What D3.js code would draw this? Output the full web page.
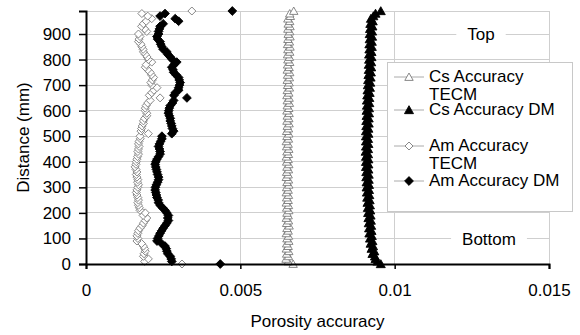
<!DOCTYPE html>
<html><head><meta charset="utf-8">
<script src="https://cdn.jsdelivr.net/npm/d3@7"></script>
<style>
html,body{margin:0;padding:0;background:#fff;}
svg text{font-family:"Liberation Sans",Arial,sans-serif;fill:#000;}
</style></head>
<body>
<svg id="chart" width="580" height="335"></svg>
<script>
// ---- data ----
const distance = [0,10,20,30,40,50,60,70,80,90,100,110,120,130,140,150,160,170,180,190,200,210,220,230,240,250,260,270,280,290,300,310,320,330,340,350,360,370,380,390,400,410,420,430,440,450,460,470,480,490,500,510,520,530,540,550,560,570,580,590,600,610,620,630,640,650,660,670,680,690,700,710,720,730,740,750,760,770,780,790,800,810,820,830,840,850,860,870,880,890,900,910,920,930,940,950,960,970,980,990];

const csTECM = [0.00671,0.00655,0.00648,0.00656,0.00650,0.00657,0.00649,0.00655,0.00650,0.00657,0.00651,0.00656,0.00649,0.00655,0.00651,0.00658,0.00650,0.00656,0.00649,0.00655,0.00651,0.00657,0.00650,0.00656,0.00649,0.00655,0.00650,0.00656,0.00649,0.00655,0.00650,0.00657,0.00651,0.00656,0.00649,0.00655,0.00650,0.00656,0.00651,0.00657,0.00650,0.00655,0.00649,0.00656,0.00651,0.00657,0.00650,0.00655,0.00649,0.00656,0.00651,0.00657,0.00650,0.00656,0.00652,0.00658,0.00651,0.00657,0.00652,0.00658,0.00651,0.00657,0.00652,0.00659,0.00652,0.00658,0.00651,0.00657,0.00652,0.00659,0.00653,0.00658,0.00652,0.00659,0.00653,0.00660,0.00652,0.00658,0.00653,0.00660,0.00654,0.00659,0.00653,0.00660,0.00654,0.00661,0.00653,0.00659,0.00654,0.00661,0.00655,0.00660,0.00654,0.00661,0.00655,0.00660,0.00654,0.00662,0.00660,0.00673];

const csDM = [0.00955,0.00944,0.00938,0.00936,0.00928,0.00934,0.00925,0.00930,0.00922,0.00928,0.00920,0.00926,0.00918,0.00925,0.00917,0.00924,0.00916,0.00923,0.00915,0.00922,0.00914,0.00921,0.00913,0.00920,0.00912,0.00919,0.00911,0.00918,0.00910,0.00917,0.00909,0.00917,0.00909,0.00916,0.00908,0.00916,0.00908,0.00915,0.00907,0.00915,0.00907,0.00915,0.00907,0.00914,0.00906,0.00914,0.00907,0.00915,0.00907,0.00914,0.00907,0.00915,0.00907,0.00915,0.00908,0.00916,0.00908,0.00916,0.00909,0.00917,0.00909,0.00917,0.00910,0.00918,0.00910,0.00918,0.00911,0.00919,0.00912,0.00920,0.00913,0.00921,0.00914,0.00922,0.00915,0.00923,0.00916,0.00924,0.00916,0.00924,0.00917,0.00925,0.00917,0.00925,0.00918,0.00926,0.00918,0.00926,0.00919,0.00927,0.00919,0.00927,0.00920,0.00928,0.00921,0.00929,0.00923,0.00931,0.00938,0.00955];

const amTECM = [0.00311,0.00190,0.00202,0.00186,0.00188,0.00192,0.00190,0.00186,0.00180,0.00165,0.00168,0.00165,0.00168,0.00170,0.00175,0.00182,0.00186,0.00192,0.00197,0.00185,0.00192,0.00175,0.00173,0.00170,0.00168,0.00170,0.00168,0.00165,0.00163,0.00165,0.00168,0.00170,0.00167,0.00168,0.00165,0.00163,0.00165,0.00162,0.00159,0.00162,0.00163,0.00165,0.00167,0.00170,0.00168,0.00170,0.00172,0.00170,0.00172,0.00176,0.00175,0.00202,0.00178,0.00180,0.00182,0.00186,0.00186,0.00190,0.00197,0.00197,0.00192,0.00192,0.00195,0.00200,0.00208,0.00240,0.00205,0.00213,0.00220,0.00230,0.00213,0.00210,0.00215,0.00219,0.00212,0.00208,0.00200,0.00192,0.00195,0.00213,0.00202,0.00198,0.00192,0.00186,0.00185,0.00181,0.00178,0.00170,0.00172,0.00175,0.00170,0.00197,0.00190,0.00180,0.00186,0.00195,0.00213,0.00200,0.00181,0.00343];

const amDM = [0.00435,0.00278,0.00276,0.00273,0.00265,0.00262,0.00260,0.00256,0.00245,0.00230,0.00232,0.00236,0.00240,0.00245,0.00250,0.00256,0.00262,0.00267,0.00265,0.00267,0.00262,0.00256,0.00248,0.00240,0.00235,0.00234,0.00230,0.00228,0.00226,0.00224,0.00225,0.00228,0.00232,0.00235,0.00235,0.00232,0.00230,0.00228,0.00226,0.00224,0.00226,0.00230,0.00235,0.00240,0.00240,0.00238,0.00235,0.00238,0.00242,0.00246,0.00246,0.00278,0.00284,0.00280,0.00278,0.00276,0.00273,0.00273,0.00270,0.00267,0.00268,0.00270,0.00273,0.00280,0.00284,0.00327,0.00285,0.00289,0.00300,0.00300,0.00303,0.00305,0.00302,0.00300,0.00292,0.00284,0.00282,0.00278,0.00285,0.00294,0.00280,0.00273,0.00265,0.00262,0.00250,0.00246,0.00242,0.00240,0.00232,0.00230,0.00235,0.00235,0.00238,0.00240,0.00250,0.00300,0.00289,0.00240,0.00256,0.00474];

const seriesNames = ["Cs Accuracy TECM","Cs Accuracy DM","Am Accuracy TECM","Am Accuracy DM"];
const xTicks = [0,0.005,0.01,0.015];
const xTickLabels = ["0","0.005","0.01","0.015"];
const yTicks = [0,100,200,300,400,500,600,700,800,900];
const yMax = 990;
const xTitle = "Porosity accuracy";
const yTitle = "Distance (mm)";
const annotations = [{text:"Top", value:900}, {text:"Bottom", value:100}];

// ---- layout ----
const svg = d3.select("#chart");
const L = 86, R = 549, T = 11, B = 264;
const x = d3.scaleLinear().domain([0, 0.015]).range([L, R]);
const y = d3.scaleLinear().domain([0, yMax]).range([B, T]);
const FS = 17;

// gridlines
const grid = svg.append("g");
grid.selectAll("line.h").data(yTicks.slice(1).concat([yMax])).join("line")
  .attr("x1", L).attr("x2", R).attr("y1", d => y(d)).attr("y2", d => y(d))
  .attr("stroke", "#cfcfcf").attr("stroke-width", 1).attr("shape-rendering","crispEdges");
grid.selectAll("line.v").data(xTicks.slice(1)).join("line")
  .attr("y1", T).attr("y2", B).attr("x1", d => x(d)).attr("x2", d => x(d))
  .attr("stroke", "#cfcfcf").attr("stroke-width", 1).attr("shape-rendering","crispEdges");

// Top / Bottom annotations
const annX = [481, 489];
annotations.forEach((a, i) => {
  const g = svg.append("g");
  const t = g.append("text").attr("x", annX[i]).attr("y", y(a.value)).attr("dy", "0.36em")
    .attr("text-anchor", "middle").attr("font-size", FS).text(a.text);
  const bb = t.node().getBBox();
  g.insert("rect", "text").attr("x", bb.x - 11).attr("y", y(a.value) - 3)
    .attr("width", bb.width + 22).attr("height", 6).attr("fill", "#fff");
});

// markers
function triPath(r){ return `M0,${-r}L${r*1.05},${r*0.85}L${-r*1.05},${r*0.85}Z`; }
function diaPath(r){ return `M0,${-r}L${r},0L0,${r}L${-r},0Z`; }

const series = [
  {name: seriesNames[0], vals: csTECM, path: triPath(4), fill: "#fff", stroke: "#7a7a7a"},
  {name: seriesNames[1], vals: csDM, path: triPath(4.3), fill: "#000", stroke: "#000"},
  {name: seriesNames[2], vals: amTECM, path: diaPath(4), fill: "#fff", stroke: "#7a7a7a"},
  {name: seriesNames[3], vals: amDM, path: diaPath(4.4), fill: "#000", stroke: "#000"}
];

series.forEach(s => {
  svg.append("g").selectAll("path").data(distance.map((d, i) => ({d, v: s.vals[i]})))
    .join("path")
    .attr("d", s.path)
    .attr("transform", p => `translate(${x(p.v)},${y(p.d)})`)
    .attr("fill", s.fill).attr("stroke", s.stroke).attr("stroke-width", 0.9);
});

// axes
const xAxis = d3.axisBottom(x).tickValues(xTicks).tickFormat((d, i) => xTickLabels[i])
  .tickSize(5).tickPadding(15);
const gx = svg.append("g").attr("transform", `translate(0,${B})`).call(xAxis);
gx.select(".domain").attr("stroke", "#000").attr("stroke-width", 2);
gx.selectAll(".tick line").attr("stroke", "#000").attr("stroke-width", 1.5);
gx.selectAll(".tick text").attr("font-size", FS).attr("font-family", "Liberation Sans, Arial, sans-serif").attr("fill","#000");

const yAxis = d3.axisLeft(y).tickValues(yTicks).tickFormat(d => String(d))
  .tickSize(7).tickPadding(8);
const gy = svg.append("g").attr("transform", `translate(${L},0)`).call(yAxis);
gy.select(".domain").attr("stroke", "#000").attr("stroke-width", 2);
gy.selectAll(".tick line").attr("stroke", "#000").attr("stroke-width", 1.5);
gy.selectAll(".tick text").attr("font-size", FS).attr("font-family", "Liberation Sans, Arial, sans-serif").attr("fill","#000");

// axis titles
svg.append("text").attr("x", (L + R) / 2).attr("y", 327).attr("text-anchor", "middle")
  .attr("font-size", FS).text(xTitle);
svg.append("text").attr("transform", `translate(28.5,${(T + B) / 2}) rotate(-90)`)
  .attr("text-anchor", "middle").attr("font-size", FS).text(yTitle);

// legend
const lg = svg.append("g");
lg.append("rect").attr("x", 387.5).attr("y", 62.5).attr("width", 185).attr("height", 149)
  .attr("fill", "#fff").attr("stroke", "#c8c8c8").attr("stroke-width", 1);
const legendRows = [
  {s: series[0], my: 77, lines: [["Cs Accuracy", 82], ["TECM", 100]]},
  {s: series[1], my: 110, lines: [["Cs Accuracy DM", 115]]},
  {s: series[2], my: 146, lines: [["Am Accuracy", 151], ["TECM", 169]]},
  {s: series[3], my: 181, lines: [["Am Accuracy DM", 186]]}
];
legendRows.forEach(r => {
  lg.append("line").attr("x1", 394).attr("x2", 424).attr("y1", r.my).attr("y2", r.my)
    .attr("stroke", "#aaa").attr("stroke-width", 1);
  lg.append("path").attr("d", r.s.path).attr("transform", `translate(409,${r.my})`)
    .attr("fill", r.s.fill).attr("stroke", r.s.stroke).attr("stroke-width", 0.9);
  r.lines.forEach(([t, by]) => {
    lg.append("text").attr("x", 429).attr("y", by).attr("font-size", FS).text(t);
  });
});
</script>
</body></html>
